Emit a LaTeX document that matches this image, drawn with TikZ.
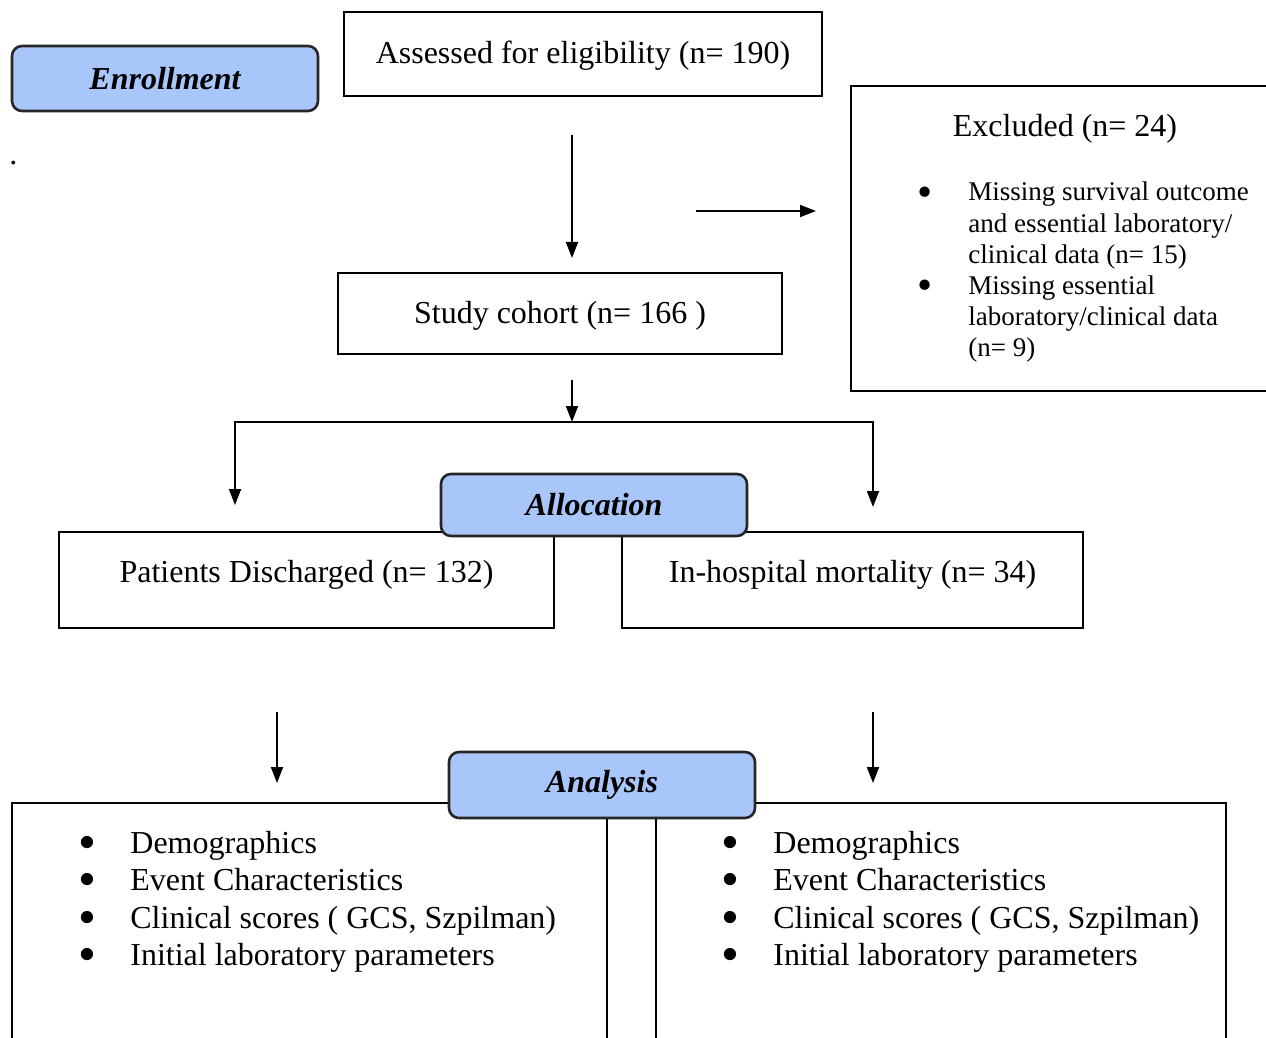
\documentclass[tikz,border=0pt]{standalone}
\usepackage{fontspec}
\setmainfont{Liberation Serif}
\usepackage{xcolor}
\usepackage{tikz}
\usetikzlibrary{arrows.meta}

\definecolor{hdrblue}{RGB}{168,198,250}
\newcommand{\blt}{\hspace*{0.175em}\makebox[0pt]{\smash{\raisebox{-0.2em}{\scalebox{1.6}{\textbullet}}}}}

\begin{document}
\begin{tikzpicture}[
    x=0.5pt, y=-0.5pt,
    box/.style={rectangle, draw=black, line width=1pt, fill=white, inner sep=0pt, align=center, text depth=1.5pt, font=\fontsize{16}{19}\selectfont},
    header/.style={rectangle, rounded corners=5pt, draw=black!85, line width=1.3pt, fill=hdrblue, minimum width=153pt, inner sep=0pt, font=\fontsize{16}{19}\selectfont\bfseries\itshape},
    txt/.style={inner sep=0pt, anchor=base west, font=\fontsize{16}{18.75}\selectfont},
    arrow/.style={-{Triangle[length=8pt,width=6pt]}, line width=0.9pt}
]
\useasboundingbox (0,0) rectangle (1266,1038);
\clip (0,0) rectangle (1266,1038);

% boxes
\node[header, minimum height=32.5pt] (enroll) at (165,78.5) {Enrollment};
\node[box, minimum width=239pt, minimum height=42pt] (assessed) at (583,54) {Assessed for eligibility (n= 190)};
\node[box, minimum width=214.5pt, minimum height=152.5pt] (excluded) at (1065.5,238.5) {};
\node[box, minimum width=222pt, minimum height=40.5pt] (cohort) at (560,313.5) {Study cohort (n= 166 )};
\node[box, minimum width=247.5pt, minimum height=48pt, text depth=8.5pt] (discharged) at (306.5,580) {Patients Discharged (n= 132)};
\node[box, minimum width=230.5pt, minimum height=48pt, text depth=8.5pt] (mortality) at (852.5,580) {In-hospital mortality (n= 34)};
\node[header, minimum height=31pt] (allocation) at (594,505) {Allocation};
\node[box, minimum width=297.5pt, minimum height=148.5pt] (leftbox) at (309.5,951.5) {};
\node[box, minimum width=285pt, minimum height=148.5pt] (rightbox) at (941,951.5) {};
\node[header, minimum height=33pt] (analysis) at (602,785) {Analysis};

\node[txt] (dot) at (9,165) {.};

% excluded text
\node[txt, anchor=base] (exctitle) at (1065,137) {Excluded (n= 24)};
\node[txt, font=\fontsize{13.5}{15.6}\selectfont] (exclist) at (919.5,201) {\begin{tabular}[t]{@{}p{24.25pt}@{}l@{}}
\blt & Missing survival outcome\\
 & and essential laboratory/\\
 & clinical data (n= 15)\\
\blt & Missing essential\\
 & laboratory/clinical data\\
 & (n= 9)
\end{tabular}};

% analysis lists
\foreach \nm/\xx in {leftlist/81, rightlist/724}
    \node[txt] (\nm) at (\xx,853) {\begin{tabular}[t]{@{}p{24.5pt}@{}l@{}}
\blt & Demographics\\
\blt & Event Characteristics\\
\blt & Clinical scores ( GCS, Szpilman)\\
\blt & Initial laboratory parameters
\end{tabular}};

% arrows
\coordinate (a1) at (572,135);
\coordinate (b1) at (572,258);
\coordinate (a2) at (696,211);
\coordinate (b2) at (816,211);
\coordinate (a3) at (572,380);
\coordinate (split) at (572,422);
\coordinate (bl) at (235,505);
\coordinate (br) at (873,507);
\coordinate (a4) at (277,712);
\coordinate (b4) at (277,783);
\coordinate (a5) at (873,712);
\coordinate (b5) at (873,783);

\draw[arrow] (a1) -- (b1);
\draw[arrow] (a2) -- (b2);
\draw[arrow] (a3) -- (split);
\draw[arrow] (split) -| (bl);
\draw[arrow] (split) -| (br);
\draw[arrow] (a4) -- (b4);
\draw[arrow] (a5) -- (b5);
\end{tikzpicture}
\end{document}
